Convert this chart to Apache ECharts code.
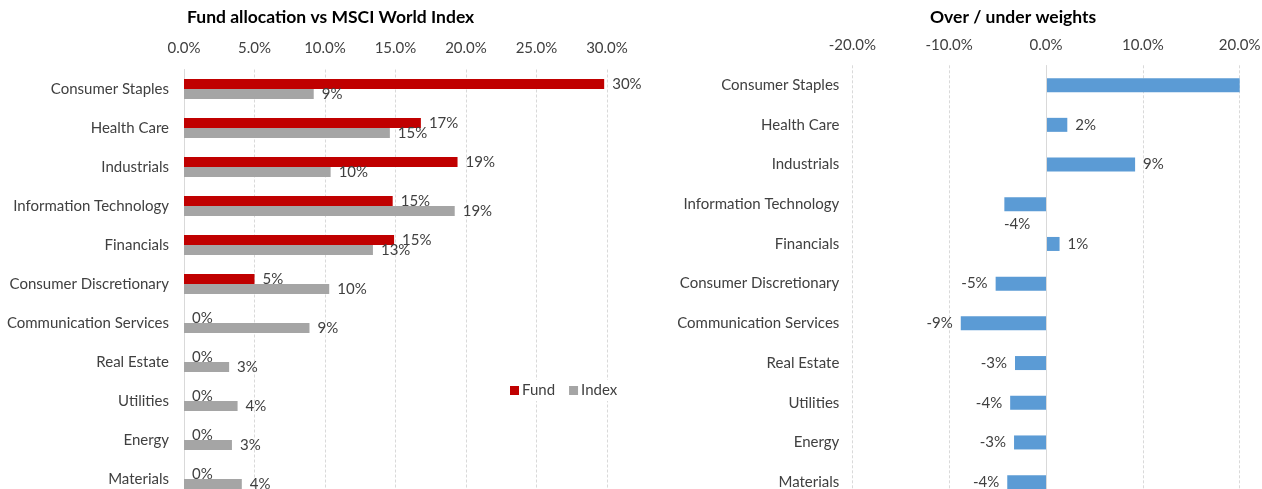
<!DOCTYPE html>
<html>
<head>
<meta charset="utf-8">
<script src="https://cdn.jsdelivr.net/npm/echarts@6/dist/echarts.min.js"></script>
<style>
html,body{margin:0;padding:0;background:#fff;}
#chart{width:1262px;height:489px;}
</style>
</head>
<body>
<div id="chart"></div>
<script>
const categories = ['Consumer Staples','Health Care','Industrials','Information Technology','Financials','Consumer Discretionary','Communication Services','Real Estate','Utilities','Energy','Materials'];
const fundValues = [29.8, 16.8, 19.4, 14.8, 14.9, 5.0, 0, 0, 0, 0, 0];
const indexValues = [9.2, 14.6, 10.4, 19.2, 13.4, 10.3, 8.9, 3.2, 3.8, 3.4, 4.1];
const overUnderValues = [20.6, 2.2, 9.2, -4.3, 1.4, -5.2, -8.8, -3.2, -3.7, -3.3, -4.0];
const leftTicks = [0, 5, 10, 15, 20, 25, 30];
const rightTicks = [-20, -10, 0, 10, 20];

const FONT = 'Lato';
const FS = 15;
const TXT = '#404040';
const GRID_LINE = '#d9d9d9';
const pct1 = v => v.toFixed(1) + '%';
const pct0 = v => Math.round(v) + '%';

const diffData = overUnderValues.map((v, i) => {
  const item = { value: v };
  if (i === 0) {
    item.label = { show: false };
  } else if (categories[i] === 'Information Technology') {
    item.label = { position: 'bottom', offset: [-8, -3] };
  } else if (v < 0) {
    item.label = { position: 'left' };
  }
  return item;
});

const chart = echarts.init(document.getElementById('chart'), null, { renderer: 'canvas' });
chart.setOption({
  animation: false,
  backgroundColor: '#ffffff',
  textStyle: { fontFamily: FONT },
  title: [
    { text: 'Fund allocation vs MSCI World Index', left: 187, top: 8, padding: 0,
      textStyle: { fontFamily: FONT, fontSize: 17.5, fontWeight: 'bold', color: '#000' } },
    { text: 'Over / under weights', left: 930, top: 8, padding: 0,
      textStyle: { fontFamily: FONT, fontSize: 17.5, fontWeight: 'bold', color: '#000' } }
  ],
  legend: {
    data: ['Fund', 'Index'],
    left: 506, top: 380,
    itemWidth: 9, itemHeight: 9, itemGap: 14,
    backgroundColor: '#ffffff',
    padding: [3, 4, 3, 4],
    textStyle: { fontFamily: FONT, fontSize: FS, color: TXT, padding: [0, 0, 0, -2] },
    icon: 'rect'
  },
  grid: [
    { left: 184, width: 423, top: 69.5, height: 429, containLabel: false, outerBoundsMode: 'none' },
    { left: 852.3, width: 387.4, top: 65.3, height: 436.7, containLabel: false, outerBoundsMode: 'none' }
  ],
  xAxis: [
    { gridIndex: 0, type: 'value', position: 'top', min: leftTicks[0], max: leftTicks[leftTicks.length - 1], interval: 5,
      axisLine: { show: false }, axisTick: { show: false },
      axisLabel: { formatter: pct1, fontFamily: FONT, fontSize: FS, color: TXT, margin: 14 },
      splitLine: { show: true, lineStyle: { color: GRID_LINE, type: [3, 2], width: 1 } } },
    { gridIndex: 1, type: 'value', position: 'top', min: rightTicks[0], max: rightTicks[rightTicks.length - 1], interval: 10,
      axisLine: { show: false }, axisTick: { show: false },
      axisLabel: { formatter: pct1, fontFamily: FONT, fontSize: FS, color: TXT, margin: 13 },
      splitLine: { show: true, lineStyle: { color: GRID_LINE, type: [3, 2], width: 1 } } }
  ],
  yAxis: [
    { gridIndex: 0, type: 'category', data: categories, inverse: true,
      axisLine: { show: true, lineStyle: { color: GRID_LINE } }, axisTick: { show: false },
      axisLabel: { fontFamily: FONT, fontSize: FS, color: TXT, margin: 15 } },
    { gridIndex: 1, type: 'category', data: categories, inverse: true,
      axisLine: { show: false }, axisTick: { show: false },
      axisLabel: { fontFamily: FONT, fontSize: FS, color: TXT, margin: 13 } }
  ],
  series: [
    { name: 'Fund', type: 'bar', xAxisIndex: 0, yAxisIndex: 0, data: fundValues,
      barWidth: 10, barGap: '0%', itemStyle: { color: '#c00000' },
      label: { show: true, position: 'right', distance: 8, formatter: p => pct0(p.value),
        fontFamily: FONT, fontSize: FS, color: TXT } },
    { name: 'Index', type: 'bar', xAxisIndex: 0, yAxisIndex: 0, data: indexValues,
      barWidth: 10, barGap: '0%', itemStyle: { color: '#a5a5a5' },
      label: { show: true, position: 'right', distance: 8, formatter: p => pct0(p.value),
        fontFamily: FONT, fontSize: FS, color: TXT } },
    { name: 'Over/under', type: 'bar', xAxisIndex: 1, yAxisIndex: 1, data: diffData,
      barWidth: 14, itemStyle: { color: '#5b9bd5' },
      label: { show: true, position: 'right', distance: 8, formatter: p => pct0(p.value),
        fontFamily: FONT, fontSize: FS, color: TXT },
      markLine: { silent: true, symbol: 'none', label: { show: false },
        lineStyle: { color: GRID_LINE, type: 'solid', width: 1 },
        data: [{ xAxis: 0 }] } }
  ]
});
</script>
</body>
</html>
